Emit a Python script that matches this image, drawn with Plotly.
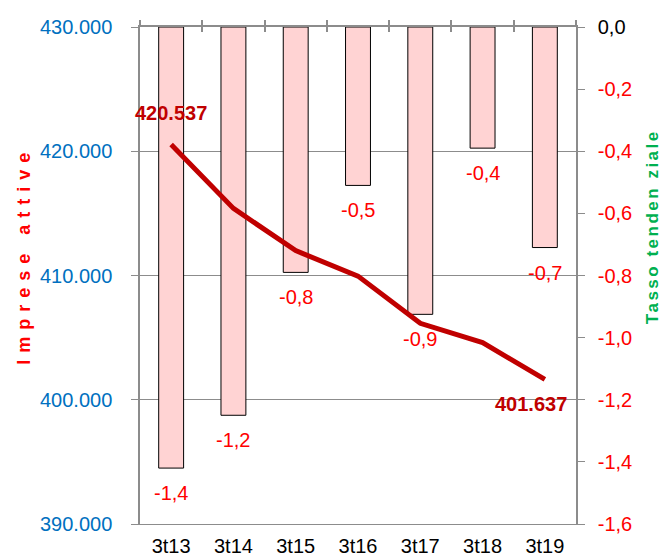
import plotly.graph_objects as go

categories = ["3t13", "3t14", "3t15", "3t16", "3t17", "3t18", "3t19"]
imprese_attive = [420537, 415400, 412000, 409950, 406150, 404600, 401637]
tasso_tendenziale = [-1.42, -1.25, -0.79, -0.51, -0.925, -0.39, -0.71]
right_ticks = [0.0, -0.2, -0.4, -0.6, -0.8, -1.0, -1.2, -1.4, -1.6]
left_ticks = [390000, 400000, 410000, 420000, 430000]

FONT = "Liberation Sans, Arial, sans-serif"
GRID = "#8c8c8c"
RED = "#FF0000"
DARKRED = "#C00000"
BLUE = "#0070C0"
GREEN = "#00B050"


def it_num(v, d=1):
    return f"{v:.{d}f}".replace(".", ",")


right_ticktext = [
    ("<span style='fill:#000000'>" + it_num(v) + "</span>") if v == 0 else it_num(v)
    for v in right_ticks
]

fig = go.Figure()

fig.add_trace(go.Bar(
    x=categories, y=tasso_tendenziale, xaxis="x", yaxis="y",
    width=0.4,
    marker=dict(color="#FFD3D3", line=dict(color="#000000", width=1)),
    showlegend=False, hoverinfo="skip",
))

fig.add_trace(go.Scatter(
    x=categories, y=imprese_attive, xaxis="x", yaxis="y2",
    mode="lines", line=dict(color=DARKRED, width=5),
    showlegend=False, hoverinfo="skip",
))

annotations = []
for c, v in zip(categories, tasso_tendenziale):
    annotations.append(dict(
        x=c, y=v, xref="x", yref="y", text=it_num(v), showarrow=False,
        yanchor="top", yshift=-12, font=dict(family=FONT, size=20, color=RED),
    ))

first_label = f"{imprese_attive[0]:,}".replace(",", ".")
last_label = f"{imprese_attive[-1]:,}".replace(",", ".")
annotations.append(dict(
    x=categories[0], y=imprese_attive[0], xref="x", yref="y2", text="<b>" + first_label + "</b>",
    showarrow=False, yanchor="bottom", yshift=19,
    font=dict(family=FONT, size=20, color=DARKRED),
))
annotations.append(dict(
    x=categories[-1], y=imprese_attive[-1], xref="x", yref="y2", text="<b>" + last_label + "</b>",
    showarrow=False, yanchor="top", yshift=-12, xshift=-14,
    font=dict(family=FONT, size=20, color=DARKRED),
))

annotations.append(dict(
    x=-0.2667, y=0.541, xref="paper", yref="paper", textangle=-90, showarrow=False,
    text="<b><span style='letter-spacing:7px'>Imprese attive</span></b>",
    font=dict(family=FONT, size=18, color=RED), xanchor="center", yanchor="middle",
))
annotations.append(dict(
    x=1.174, y=0.599, xref="paper", yref="paper", textangle=-90, showarrow=False,
    text="<b><span style='letter-spacing:2.5px'>Tasso tenden ziale</span></b>",
    font=dict(family=FONT, size=17, color=GREEN), xanchor="center", yanchor="middle",
))

n = len(categories)
boundaries = [i - 0.5 for i in range(n + 1)]

fig.update_layout(
    width=664, height=558,
    margin=dict(l=140, r=88, t=27, b=34, autoexpand=False),
    paper_bgcolor="white", plot_bgcolor="white",
    separators=",.",
    font=dict(family=FONT, size=20, color="#000000"),
    bargap=0.6,
    xaxis=dict(
        type="category", range=[-0.5, n - 0.5], anchor="y", automargin=False,
        showline=True, linecolor=GRID, linewidth=1, mirror=False,
        showgrid=False, ticks="", ticklabelstandoff=4,
        tickfont=dict(family=FONT, size=20, color="#000000"),
    ),
    xaxis2=dict(
        overlaying="x", side="top", anchor="y", range=[-0.5, n - 0.5], automargin=False,
        tickmode="array", tickvals=boundaries, showticklabels=False,
        ticks="outside", ticklen=5, tickcolor=GRID, tickwidth=1.5,
        showline=True, linecolor=GRID, linewidth=1.5, showgrid=False, zeroline=False,
    ),
    xaxis3=dict(
        overlaying="x", side="top", anchor="y", range=[-0.5, n - 0.5], automargin=False,
        tickmode="array", tickvals=boundaries, showticklabels=False,
        ticks="inside", ticklen=5, tickcolor=GRID, tickwidth=1.5,
        showline=False, showgrid=False, zeroline=False,
    ),
    yaxis=dict(
        side="right", range=[-1.6, 0], tickmode="array", tickvals=right_ticks,
        ticktext=right_ticktext, showgrid=False, zeroline=False, automargin=False,
        ticks="outside", ticklen=7, tickcolor=GRID,
        showline=True, linecolor=GRID, linewidth=1.5,
        ticklabelstandoff=9,
        tickfont=dict(family=FONT, size=20, color=RED),
    ),
    yaxis2=dict(
        overlaying="y", side="left", anchor="x", range=[390000, 430000], automargin=False,
        tickmode="array", tickvals=left_ticks, tickformat=",.0f",
        showgrid=True, gridcolor=GRID, gridwidth=1, zeroline=False,
        ticks="outside", ticklen=7, tickcolor=GRID,
        showline=True, linecolor=GRID, linewidth=1.5,
        ticklabelstandoff=15,
        tickfont=dict(family=FONT, size=20, color=BLUE),
    ),
    annotations=annotations,
)

# invisible traces so the tick-only axes are drawn
fig.add_trace(go.Scatter(x=[0], y=[None], xaxis="x2", yaxis="y", showlegend=False, hoverinfo="skip"))
fig.add_trace(go.Scatter(x=[0], y=[None], xaxis="x3", yaxis="y", showlegend=False, hoverinfo="skip"))

fig.write_html(
    "out.html",
    config={"displayModeBar": False},
    post_script="document.body.style.margin='0px';document.body.style.overflow='hidden';",
)
